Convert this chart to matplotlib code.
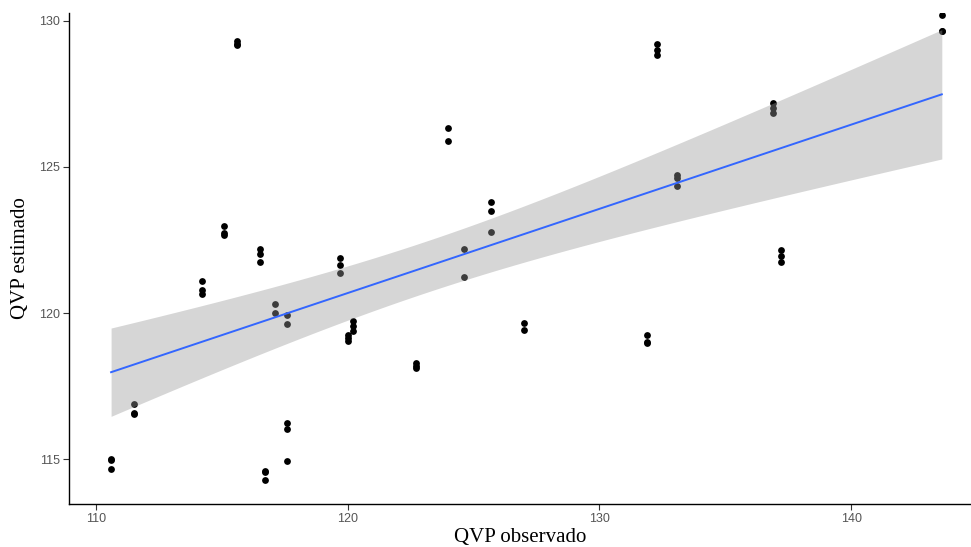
import numpy as np
import matplotlib
matplotlib.use("Agg")
import matplotlib.pyplot as plt

# Observed vs. estimated QVP (replicate estimates per observed value)
qvp_observado = [
    110.6, 110.6, 110.6,
    111.5, 111.5, 111.5,
    114.2, 114.2, 114.2,
    115.1, 115.1, 115.1,
    115.6, 115.6, 115.6,
    116.5, 116.5, 116.5,
    116.7, 116.7, 116.7,
    117.1, 117.1,
    117.6, 117.6,
    117.6, 117.6, 117.6,
    119.7, 119.7, 119.7,
    120.0, 120.0, 120.0,
    120.2, 120.2, 120.2,
    122.7, 122.7, 122.7,
    124.0, 124.0,
    124.6, 124.6,
    125.7, 125.7, 125.7,
    127.0, 127.0,
    131.9, 131.9, 131.9,
    132.3, 132.3, 132.3,
    133.1, 133.1, 133.1,
    136.9, 136.9, 136.9,
    137.2, 137.2, 137.2,
    143.6, 143.6, 143.6,
]
qvp_estimado = [
    115.02, 114.98, 114.66,
    116.88, 116.59, 116.55,
    121.11, 120.80, 120.65,
    122.96, 122.75, 122.67,
    129.30, 129.20, 129.15,
    122.18, 122.02, 121.76,
    114.61, 114.58, 114.29,
    120.30, 120.01,
    119.94, 119.62,
    116.23, 116.03, 114.93,
    121.87, 121.64, 121.36,
    119.25, 119.15, 119.06,
    119.73, 119.55, 119.39,
    118.30, 118.20, 118.11,
    126.32, 125.90,
    122.18, 121.24,
    123.81, 123.49, 122.78,
    119.67, 119.42,
    119.25, 119.00, 118.97,
    129.19, 129.00, 128.83,
    124.72, 124.62, 124.35,
    127.17, 127.00, 126.85,
    122.16, 121.95, 121.76,
    130.20, 129.66, 129.64,
]

x_ticks = [110, 120, 130, 140]
y_ticks = [115, 120, 125, 130]

x = np.asarray(qvp_observado, dtype=float)
y = np.asarray(qvp_estimado, dtype=float)

# Ordinary least squares fit with 95% confidence band
n = len(x)
slope, intercept = np.polyfit(x, y, 1)
resid = y - (intercept + slope * x)
df = n - 2
s = np.sqrt(np.sum(resid ** 2) / df)
xbar = x.mean()
sxx = np.sum((x - xbar) ** 2)
z = 1.959964
t_q = z + (z ** 3 + z) / (4 * df) + (5 * z ** 5 + 16 * z ** 3 + 3 * z) / (96 * df ** 2)

xs = np.linspace(x.min(), x.max(), 200)
ys = intercept + slope * xs
se = s * np.sqrt(1.0 / n + (xs - xbar) ** 2 / sxx)
lo = ys - t_q * se
hi = ys + t_q * se

fig = plt.figure(figsize=(9.71, 5.47), dpi=100)
ax = fig.add_axes([69.3 / 971, 1 - 503.7 / 547, 1 - 69.3 / 971, (503.7 - 13) / 547])

ax.scatter(x, y, s=24, color="black", linewidths=0, zorder=1)
ax.fill_between(xs, lo, hi, color="#999999", alpha=0.4, linewidth=0, zorder=2)
ax.plot(xs, ys, color="#3366FF", linewidth=1.4, zorder=3)

ax.set_xlim(108.94, 144.76)
ax.set_ylim(113.48, 130.26)
ax.set_xticks(x_ticks)
ax.set_yticks(y_ticks)

for side in ("top", "right"):
    ax.spines[side].set_visible(False)
for side in ("left", "bottom"):
    ax.spines[side].set_color("black")
    ax.spines[side].set_linewidth(1.0)

ax.tick_params(axis="both", length=4, width=0.8, color="#333333",
               labelcolor="#555555", labelsize=9, pad=3)
for lab in ax.get_xticklabels() + ax.get_yticklabels():
    lab.set_family("Liberation Sans")

ax.set_xlabel("QVP observado", family="Liberation Serif", fontsize=15, labelpad=2)
ax.set_ylabel("QVP estimado", family="Liberation Serif", fontsize=15, labelpad=6)

fig.savefig("out.png", dpi=100)
